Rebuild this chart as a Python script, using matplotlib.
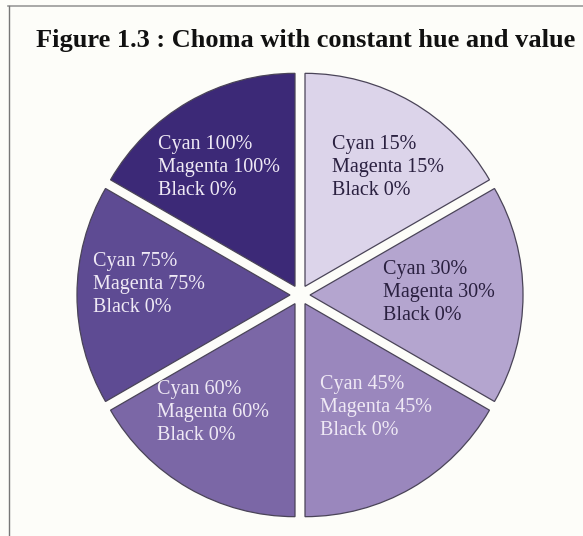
import matplotlib.pyplot as plt

# slice data, clockwise from 12 o'clock
cyan = [15, 30, 45, 60, 75, 100]
magenta = [15, 30, 45, 60, 75, 100]
black = [0, 0, 0, 0, 0, 0]
sizes = [1, 1, 1, 1, 1, 1]
colors = ["#dcd4ea", "#b4a5cf", "#9a87bd", "#7b67a6", "#5e4b93", "#3c2977"]
text_colors = ["#2a2040", "#2a2040", "#efe9f5", "#efe9f5", "#efe9f5", "#efe9f5"]
title = "Figure 1.3 : Choma with constant hue and value"

# label block anchors (left edge, vertical centre) in pie-radius units
label_pos = [(0.15, 0.60), (0.39, 0.01), (0.094, -0.53),
             (-0.67, -0.55), (-0.97, 0.05), (-0.667, 0.60)]

W, H = 583, 536
cx, cy, r = 300, 295, 213  # pixel centre and radius

fig = plt.figure(figsize=(W / 100, H / 100), dpi=100, facecolor="#fdfdf9")
ax = fig.add_axes([0, 0, 1, 1])
ax.set_facecolor("#fdfdf9")

ax.pie(sizes, colors=colors, startangle=90, counterclock=False,
       explode=[0.047] * 6,
       wedgeprops=dict(edgecolor="#4a4458", linewidth=0.9))

for i, (x, y) in enumerate(label_pos):
    txt = f"Cyan {cyan[i]}%\nMagenta {magenta[i]}%\nBlack {black[i]}%"
    ax.text(x, y, txt, ha="left", va="center", color=text_colors[i],
            fontsize=14.5, family="Liberation Serif", linespacing=1.28)

ax.set_xlim(-cx / r, (W - cx) / r)
ax.set_ylim(-(H - cy) / r, cy / r)
ax.set_aspect("auto")
ax.axis("off")

# scanned page frame lines
fig.add_artist(plt.Line2D([8 / W, 1], [1 - 6 / H, 1 - 6 / H], color="#9a9a9a", lw=1.2))
fig.add_artist(plt.Line2D([9 / W, 9 / W], [0, 1 - 6 / H], color="#777777", lw=1.0))

fig.text(306 / W, 1 - 41 / H, title, ha="center", va="center",
         fontsize=19, fontweight="bold", family="Liberation Serif", color="#111111")

fig.savefig("out.png", dpi=100, facecolor=fig.get_facecolor())
